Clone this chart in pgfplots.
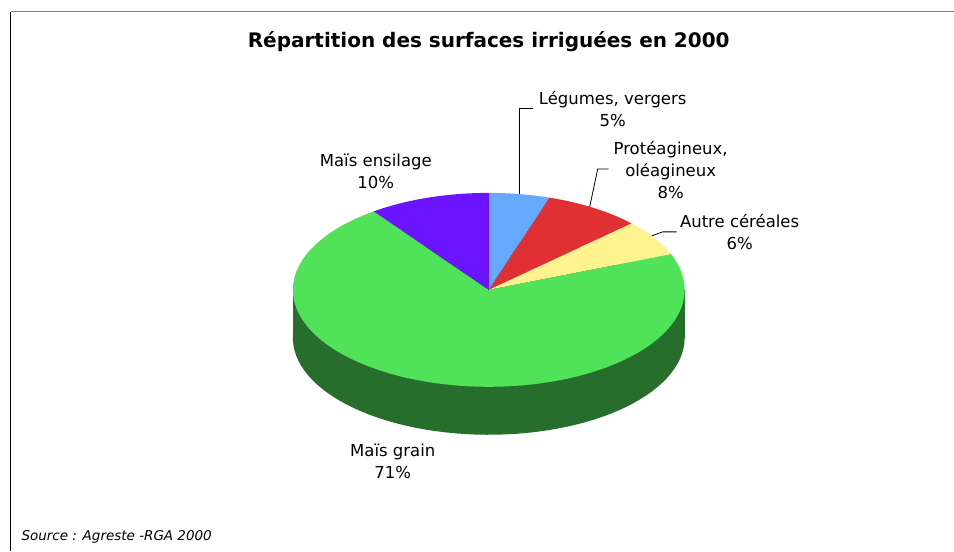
\documentclass[border=0pt]{standalone}
\usepackage{fontspec}
\setmainfont{DejaVu Sans}
\usepackage{pgfplots}
\usepackage{pgfplotstable}
\pgfplotsset{compat=1.18}

\definecolor{slice0}{HTML}{66AAFF}
\definecolor{slice1}{HTML}{E03034}
\definecolor{slice2}{HTML}{FFF38F}
\definecolor{slice3}{HTML}{50E35A}
\definecolor{slice4}{HTML}{6A14FF}
\definecolor{sidegreen}{HTML}{276E2D}
\definecolor{framegray}{HTML}{808080}

% category, share in %
\pgfplotstableread{
label value
Legumes 5
Proteagineux 8
Autre 6
Grain 71
Ensilage 10
}\piedata

\begin{document}
\begin{tikzpicture}
\begin{axis}[
  hide axis, scale only axis,
  width=954pt, height=551pt,
  xmin=0, xmax=954, ymin=0, ymax=551,
  clip=false,
]
\path (axis cs:0,0) rectangle (axis cs:954,551);
% frame
\draw[framegray, line width=1pt] (axis cs:11,539) -- (axis cs:954,539);
\draw[black, line width=1pt] (axis cs:11,539) -- (axis cs:11,0);

% side of the pie (front part is all "Mais grain")
\addplot[draw=none, fill=sidegreen, domain=0:360, samples=120] ({489+196*cos(x)},{213+97*sin(x)}) -- cycle;
\addplot[draw=none, fill=sidegreen] coordinates {(293,213) (685,213) (685,261) (293,261)} -- cycle;

% top face
\def\cum{0}
\pgfplotsforeachungrouped \i in {0,...,4}{%
  \pgfplotstablegetelem{\i}{value}\of\piedata
  \pgfmathsetmacro\bstart{90-3.6*\cum}%
  \pgfmathsetmacro\cum{\cum+\pgfplotsretval}%
  \pgfmathsetmacro\bend{90-3.6*\cum}%
  \edef\temp{\noexpand\addplot[draw=none, fill=slice\i, domain=\bend:\bstart, samples=120]
    ({489+196*cos(x)},{261+97*sin(x)}) -- (axis cs:489,261) -- cycle;}%
  \temp
}

% leader lines
\draw[black, line width=0.8pt] (axis cs:520,357) -- (axis cs:520,443) -- (axis cs:533,443);
\draw[black, line width=0.8pt] (axis cs:590,344) -- (axis cs:598,382) -- (axis cs:609,382);
\draw[black, line width=0.8pt] (axis cs:652,315) -- (axis cs:663,319) -- (axis cs:677,319);

% title
\node[font=\fontsize{20}{24}\selectfont\bfseries] at (axis cs:489,509) {Répartition des surfaces irriguées en 2000};

% labels
\node[align=center, font=\fontsize{16.5}{22}\selectfont] at (axis cs:613,442) {Légumes, vergers\\5\%};
\node[align=center, font=\fontsize{16.5}{22}\selectfont] at (axis cs:671,381) {Protéagineux,\\oléagineux\\8\%};
\node[align=center, font=\fontsize{16.5}{22}\selectfont] at (axis cs:740,319) {Autre céréales\\6\%};
\node[align=center, font=\fontsize{16.5}{22}\selectfont] at (axis cs:376,380) {Maïs ensilage\\10\%};
\node[align=center, font=\fontsize{16.5}{22}\selectfont] at (axis cs:393,89) {Maïs grain\\71\%};

% source
\node[anchor=west, font=\fontsize{13.5}{16}\selectfont\itshape] at (axis cs:18,14) {Source : Agreste -RGA 2000};
\end{axis}
\end{tikzpicture}
\end{document}
